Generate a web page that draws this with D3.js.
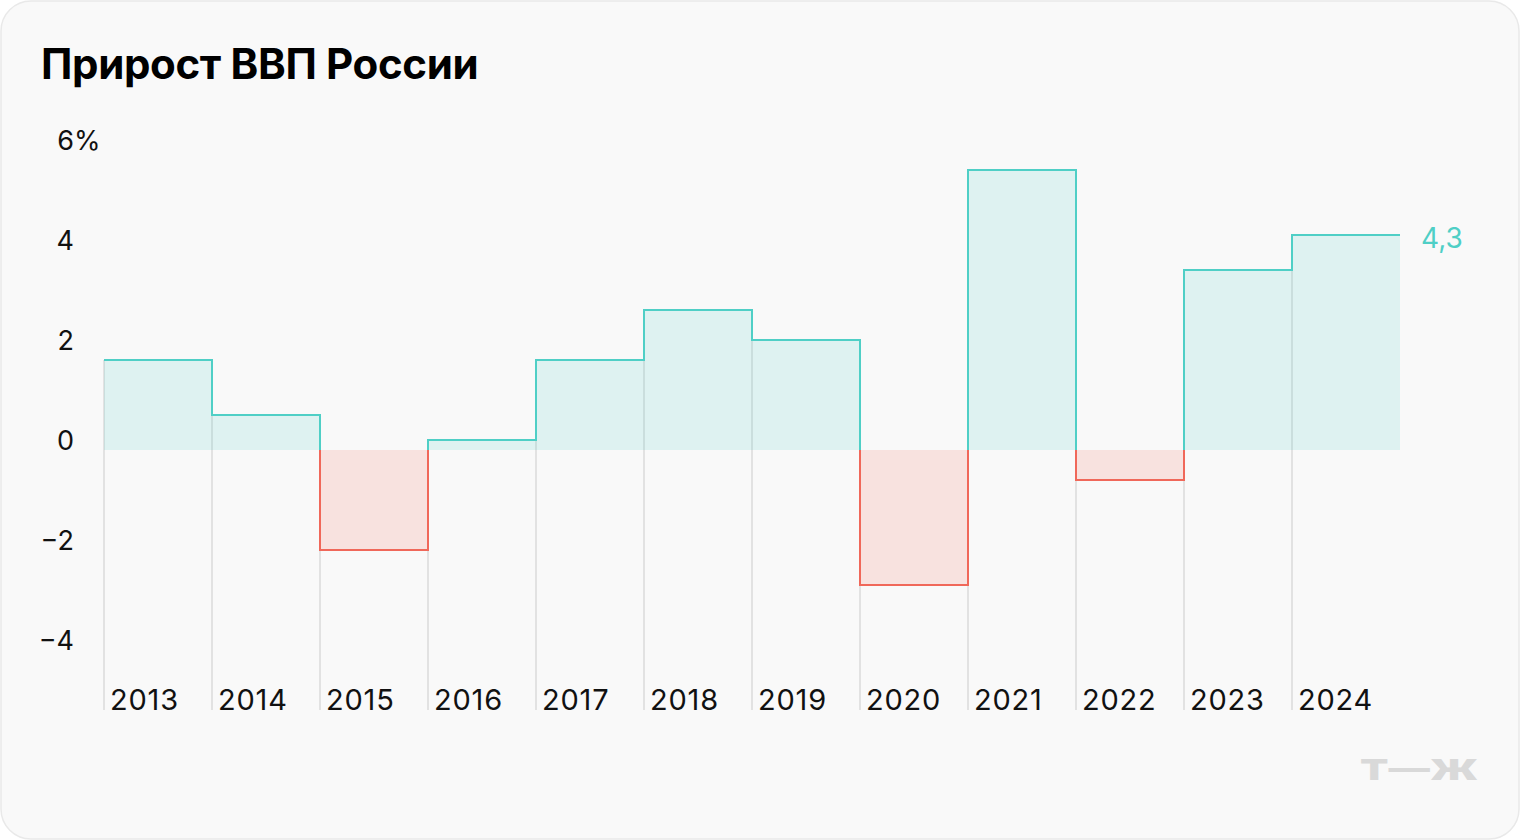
<!DOCTYPE html>
<html><head><meta charset="utf-8">
<script src="https://cdn.jsdelivr.net/npm/d3@7"></script>
<style>html,body{margin:0;padding:0;background:#fff;}svg{display:block;font-family:Inter,"Noto Sans",sans-serif;}</style>
</head><body>
<svg id="chart" width="1520" height="840"></svg>
<script>
const years = ["2013","2014","2015","2016","2017","2018","2019","2020","2021","2022","2023","2024"];
const growth = [1.8, 0.7, -2.0, 0.2, 1.8, 2.8, 2.2, -2.7, 5.6, -0.6, 3.6, 4.3];
const yTicks = [6, 4, 2, 0, -2, -4];
const lastLabel = "4,3";
const title = "Прирост ВВП России";

const svg = d3.select("#chart");
const teal = "#4fcfc6", red = "#f0685a";

svg.append("rect").attr("x",1).attr("y",1).attr("width",1518).attr("height",838)
  .attr("rx",30).attr("fill","#f9f9f9").attr("stroke","#e9e9e9").attr("stroke-width",1.5);

svg.append("text").attr("x",41).attr("y",79).attr("font-size",42).attr("font-weight",700)
  .attr("letter-spacing",-0.35).attr("fill","#000").text(title);

const x = d3.scaleBand().domain(years).range([104,1400]).padding(0);
const y = d3.scaleLinear().domain([-4,6]).range([650,150]);

// y tick labels
const tg = svg.append("g");
yTicks.forEach(t=>{
  tg.append("text").attr("x",74).attr("y",y(t)).attr("text-anchor","end")
    .attr("font-size",27).attr("fill","#111").text(t<0?"\u2212"+Math.abs(t):String(t));
  if(t===yTicks[0]) tg.append("text").attr("x",74).attr("y",y(t)).attr("font-size",27).attr("fill","#111").text("%");
});

// vertical gridlines
const bottomY = 710;
years.forEach((yr,i)=>{
  const prev = i>0 ? growth[i-1] : growth[i];
  const top = y(Math.max(prev, growth[i], 0));
  svg.append("line").attr("x1",x(yr)).attr("x2",x(yr)).attr("y1",top).attr("y2",bottomY)
    .attr("stroke","#e2e2e2").attr("stroke-width",2);
});

// step data
const pts = years.map((yr,i)=>[x(yr), growth[i]]);
pts.push([x(years[years.length-1])+x.bandwidth(), growth[growth.length-1]]);

const defs = svg.append("defs");
defs.append("clipPath").attr("id","clipPos").append("rect").attr("x",0).attr("y",0).attr("width",1520).attr("height",y(0));
defs.append("clipPath").attr("id","clipNeg").append("rect").attr("x",0).attr("y",y(0)).attr("width",1520).attr("height",840-y(0));

const area = d3.area().curve(d3.curveStepAfter).x(d=>d[0]).y0(y(0)).y1(d=>y(d[1]));
const line = d3.line().curve(d3.curveStepAfter).x(d=>d[0]).y(d=>y(d[1]));

[["clipPos",teal],["clipNeg",red]].forEach(([cid,col])=>{
  const g = svg.append("g").attr("clip-path",`url(#${cid})`);
  g.append("path").attr("d",area(pts)).attr("fill",col).attr("fill-opacity",0.16);
});
[["clipPos",teal],["clipNeg",red]].forEach(([cid,col])=>{
  const g = svg.append("g").attr("clip-path",`url(#${cid})`);
  g.append("path").attr("d",line(pts)).attr("fill","none").attr("stroke",col).attr("stroke-width",2);
});

// x labels
years.forEach(yr=>{
  svg.append("text").attr("x",x(yr)+6).attr("y",bottomY-0.5).attr("font-size",29)
    .attr("letter-spacing",0.8).attr("fill","#111").text(yr);
});

// last value label
svg.append("text").attr("x",1421).attr("y",y(growth[growth.length-1])+13).attr("font-size",28)
  .attr("fill",teal).text(lastLabel);

// logo
svg.append("text").attr("x",1360).attr("y",780).attr("font-size",28).attr("font-weight",900)
  .attr("fill","#d9d9d9").attr("textLength",118).attr("lengthAdjust","spacingAndGlyphs").text("Т—Ж");
</script>
</body></html>
